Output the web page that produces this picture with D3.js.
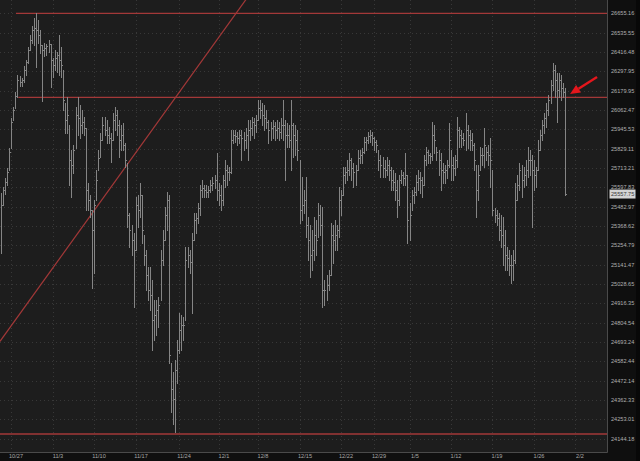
<!DOCTYPE html>
<meta charset="utf-8">
<body style="margin:0;background:#0e0e0e">
<script src="https://d3js.org/d3.v7.min.js"></script>
<script>

// hourly-ish bars (high / low / close)
var hi = [
  25564,25600,25653,25713,25833,26014,26080,26172,26275,26269,
  26257,26330,26367,26447,26521,26577,26626,26657,26614,26552,
  26459,26472,26465,26490,26465,26380,26429,26416,26521,26447,
  26306,26105,26141,25972,25821,25851,26080,26141,26093,26062,
  26020,25953,25624,25552,25463,25523,25701,25821,25923,26020,
  26020,26002,25959,25923,26044,26080,26062,26002,25972,25984,
  25863,25743,25446,25375,25328,25540,25552,25624,25552,25316,
  25228,25128,25128,25053,24937,24937,24954,25228,25345,25481,
  25570,25552,24575,24524,24592,24706,24862,24850,24838,25245,
  25245,25228,25328,25446,25446,25505,25612,25642,25612,25612,
  25606,25642,25659,25671,25803,25624,25612,25671,25761,25731,
  25719,25941,25941,25941,25929,25941,25941,25929,25953,26002,
  26002,26020,26014,26032,26123,26123,26105,26093,26062,26002,
  25990,26002,25990,26002,25990,26014,26123,26002,25984,25972,
  26123,25984,25972,25941,25761,25659,25582,25659,25422,25375,
  25345,25422,25404,25505,25493,25481,25053,25082,25111,25387,
  25375,25404,25375,25600,25582,25719,25719,25761,25803,25773,
  25743,25731,25821,25821,25833,25899,25899,25929,25941,25929,
  25899,25881,25821,25791,25779,25761,25779,25761,25719,25701,
  25683,25642,25671,25701,25689,25803,25671,25505,25582,25600,
  25671,25701,25689,25659,25791,25839,25821,25803,25990,25972,
  25839,25821,25803,25743,25731,25761,25984,25821,25779,25791,
  26020,25959,25941,25923,26044,25972,25941,25923,25863,25731,
  25731,25839,25833,25953,25839,25851,25893,25701,25475,25463,
  25446,25434,25422,25345,25245,25228,25199,25228,25624,25671,
  25743,25731,25719,25761,25839,25821,25791,25761,25719,25881,
  25941,26002,26044,26105,26153,26245,26349,26337,26288,26288,
  26275,26227,26196
];
var lo = [
  25210,25493,25558,25612,25701,25833,26002,26074,26141,26208,
  26208,26233,26275,26349,26429,26472,26459,26324,26472,26410,
  26117,26392,26398,26416,26202,26263,26306,26294,26275,26263,
  26062,25923,25923,25612,25540,25683,25833,25911,25893,25923,
  25911,25463,25463,25422,25006,25093,25523,25701,25779,25881,
  25911,25863,25863,25749,25881,25941,25911,25779,25821,25821,
  25719,25363,25245,25199,24896,25228,25363,25422,25269,25140,
  24995,24937,24879,24649,24706,24735,24781,24937,25140,25287,
  25345,24575,24292,24225,24180,24461,24632,24649,24706,24821,
  25128,25093,24862,25287,25328,25387,25434,25540,25540,25540,
  25540,25570,25582,25594,25523,25493,25463,25493,25600,25612,
  25642,25683,25863,25869,25851,25863,25761,25821,25833,25761,
  25881,25911,25893,25929,26002,26014,25972,25941,25953,25863,
  25881,25893,25881,25893,25881,25893,25881,25642,25839,25839,
  25701,25779,25791,25761,25387,25404,25446,25304,25169,25070,
  25111,25169,25199,25304,25316,24896,24908,24937,24995,25082,
  25152,25228,25228,25304,25434,25552,25624,25642,25671,25642,
  25600,25612,25701,25743,25743,25803,25821,25863,25869,25851,
  25821,25809,25701,25659,25659,25659,25671,25642,25582,25582,
  25523,25422,25493,25624,25612,25612,25269,25287,25463,25505,
  25552,25582,25564,25540,25612,25731,25743,25743,25761,25803,
  25761,25671,25582,25624,25624,25653,25719,25642,25642,25671,
  25719,25839,25839,25851,25821,25833,25821,25821,25701,25422,
  25523,25701,25731,25719,25761,25731,25600,25434,25393,25375,
  25287,25245,25140,25111,25111,25082,25035,25053,25152,25523,
  25582,25540,25600,25612,25659,25671,25363,25582,25600,25701,
  25821,25881,25923,25959,26032,26105,26184,26141,25990,26141,
  26123,26141,25552
];
var cl = [
  25493,25582,25630,25689,25809,25990,26062,26147,26245,26233,
  26245,26306,26355,26429,26490,26552,26564,26552,26521,26459,
  26429,26441,26453,26465,26367,26337,26380,26398,26367,26337,
  26123,26002,26032,25761,25731,25821,26032,26014,25972,25990,
  25953,25582,25523,25463,25345,25493,25642,25773,25881,25972,
  25941,25911,25893,25881,26002,26032,25972,25881,25911,25851,
  25761,25434,25345,25287,25228,25493,25463,25552,25345,25199,
  25082,24995,24966,24821,24850,24879,24908,25169,25287,25434,
  25523,24621,24422,24365,24535,24649,24764,24792,24792,25169,
  25199,25158,25287,25404,25416,25475,25582,25594,25582,25570,
  25582,25612,25624,25642,25582,25552,25523,25642,25701,25689,
  25689,25881,25911,25905,25893,25911,25893,25881,25911,25941,
  25953,25990,25972,26002,26074,26062,26032,26014,25990,25941,
  25953,25965,25941,25953,25929,25972,25972,25911,25911,25881,
  25972,25911,25881,25821,25463,25493,25523,25375,25287,25199,
  25228,25316,25287,25434,25375,24995,24995,25024,25082,25316,
  25287,25316,25345,25523,25552,25671,25689,25701,25761,25713,
  25689,25701,25773,25791,25809,25869,25881,25905,25911,25893,
  25869,25851,25761,25731,25713,25701,25731,25701,25642,25630,
  25582,25523,25642,25671,25653,25671,25404,25434,25552,25570,
  25630,25653,25642,25612,25761,25809,25791,25785,25911,25881,
  25809,25761,25701,25689,25701,25731,25881,25731,25713,25761,
  25941,25911,25893,25881,25941,25911,25881,25851,25761,25582,
  25671,25791,25791,25851,25809,25791,25761,25463,25434,25416,
  25345,25316,25257,25199,25181,25140,25140,25169,25523,25612,
  25701,25642,25671,25701,25761,25761,25701,25671,25701,25821,
  25911,25972,26014,26062,26123,26214,26306,26245,26184,26245,
  26196,26172,25557.75
];
var lastPrice = 25557.75;

var yTicks = [26655.16, 26535.55, 26416.48, 26297.95, 26179.95, 26062.47,
  25945.53, 25829.11, 25713.21, 25597.83, 25482.97, 25368.62, 25254.79,
  25141.47, 25028.65, 24916.35, 24804.54, 24693.24, 24582.44, 24472.14,
  24362.33, 24253.01, 24144.18];

// bar index where each week starts
var weekIdx = [5, 25, 45, 65, 86, 105, 124, 144, 164, 180, 197, 217, 237, 257, 277];
var weekLabels = ["10/27", "11/3", "11/10", "11/17", "11/24", "12/1", "12/8",
  "12/15", "12/22", "12/29", "1/5", "1/12", "1/19", "1/26", "2/2"];

// drawn levels: price, first bar index
var levelPrice = [26655, 26139, 24170];
var levelStart = [7.3, 8.4, -0.4];

// trend line through two points (bar index, price)
var trendIdx = [0, 115];
var trendPrice = [24703, 26684];

// arrow: tail and tip (bar index, price)
var arrowIdx = [287.4, 274.4];
var arrowPrice = [26263, 26159];

var width = 640,
    height = 461,
    plotW = 607,
    plotH = 452;

var svg = d3.select("body").append("svg")
    .attr("width", width)
    .attr("height", height)
    .style("display", "block");

var x = d3.scaleLinear().domain([-0.4, 292.2]).range([0, plotW]);
var y = d3.scaleLog().domain([24144.18, 26655.16]).range([438.6, 13.3]);

svg.append("rect").attr("width", width).attr("height", height).attr("fill", "#0f0f0f");
svg.append("rect").attr("width", plotW).attr("height", plotH).attr("fill", "#1d1d1d");
svg.append("rect").attr("x", 636).attr("width", 4).attr("height", height).attr("fill", "#080808");

svg.append("clipPath").attr("id", "plot")
  .append("rect").attr("width", plotW).attr("height", plotH);

// grid
svg.append("g").selectAll("line").data(yTicks).enter().append("line")
    .attr("x1", 0).attr("x2", plotW)
    .attr("y1", function(d) { return Math.round(y(d)) + 0.5; })
    .attr("y2", function(d) { return Math.round(y(d)) + 0.5; })
    .attr("stroke", "#383838")
    .attr("stroke-dasharray", "1,3");

svg.append("g").selectAll("line").data(weekIdx).enter().append("line")
    .attr("x1", function(d) { return Math.round(x(d)) + 0.5; })
    .attr("x2", function(d) { return Math.round(x(d)) + 0.5; })
    .attr("y1", 0).attr("y2", plotH)
    .attr("stroke", "#383838")
    .attr("stroke-dasharray", "1,3");

// red levels (under the bars)
var red = svg.append("g").attr("clip-path", "url(#plot)");
red.selectAll("line").data(levelPrice).enter().append("line")
    .attr("x1", function(d, i) { return x(levelStart[i]); })
    .attr("x2", plotW)
    .attr("y1", function(d) { return y(d); })
    .attr("y2", function(d) { return y(d); })
    .attr("stroke", "#a33838")
    .attr("stroke-width", 1.3);

var tx1 = x(trendIdx[0]), ty1 = y(trendPrice[0]),
    tx2 = x(trendIdx[1]), ty2 = y(trendPrice[1]),
    slope = (ty2 - ty1) / (tx2 - tx1);
red.append("line")
    .attr("x1", 0).attr("y1", ty1 - slope * tx1)
    .attr("x2", plotW).attr("y2", ty1 + slope * (plotW - tx1))
    .attr("stroke", "#a33838")
    .attr("stroke-width", 1.2);

// bars
var bars = svg.append("g").attr("stroke", "#858585").attr("shape-rendering", "crispEdges");
bars.selectAll("line.hl").data(hi).enter().append("line")
    .attr("class", "hl")
    .attr("x1", function(d, i) { return Math.round(x(i)) + 0.5; })
    .attr("x2", function(d, i) { return Math.round(x(i)) + 0.5; })
    .attr("y1", function(d) { return y(d); })
    .attr("y2", function(d, i) { return y(lo[i]) + 1; });
bars.selectAll("line.c").data(cl).enter().append("line")
    .attr("class", "c")
    .attr("x1", function(d, i) { return Math.round(x(i)) + 1; })
    .attr("x2", function(d, i) { return Math.round(x(i)) + 2; })
    .attr("y1", function(d) { return Math.round(y(d)) + 0.5; })
    .attr("y2", function(d) { return Math.round(y(d)) + 0.5; });

// arrow
var ax0 = x(arrowIdx[0]), ay0 = y(arrowPrice[0]),
    ax1 = x(arrowIdx[1]), ay1 = y(arrowPrice[1]),
    ang = Math.atan2(ay1 - ay0, ax1 - ax0),
    headLen = 10, headW = 4.5;
var bx = ax1 - headLen * Math.cos(ang), by = ay1 - headLen * Math.sin(ang);
svg.append("line")
    .attr("x1", ax0).attr("y1", ay0).attr("x2", bx).attr("y2", by)
    .attr("stroke", "#e5161c").attr("stroke-width", 2.4);
svg.append("polygon")
    .attr("points", [
      [ax1, ay1],
      [bx + headW * Math.sin(ang), by - headW * Math.cos(ang)],
      [bx - headW * Math.sin(ang), by + headW * Math.cos(ang)]
    ].map(function(p) { return p.join(","); }).join(" "))
    .attr("fill", "#e5161c");

// borders
svg.append("line").attr("x1", plotW + 0.5).attr("x2", plotW + 0.5)
    .attr("y1", 0).attr("y2", plotH + 0.5).attr("stroke", "#4a4a4a");
svg.append("line").attr("x1", 0).attr("x2", plotW + 0.5)
    .attr("y1", plotH + 0.5).attr("y2", plotH + 0.5).attr("stroke", "#4a4a4a");

// y labels
svg.append("g").selectAll("text").data(yTicks).enter().append("text")
    .attr("x", 611)
    .attr("y", function(d) { return y(d); })
    .attr("dy", "0.35em")
    .attr("fill", "#b0b0b0")
    .style("font", "5.6px 'Liberation Sans', Arial, sans-serif")
    .text(function(d) { return d.toFixed(2); });

// last price box
var ly = y(lastPrice);
svg.append("rect")
    .attr("x", 609.5).attr("y", ly - 4.5)
    .attr("width", 26).attr("height", 9)
    .attr("fill", "#d4d4d4");
svg.append("text")
    .attr("x", 611).attr("y", ly).attr("dy", "0.35em")
    .attr("fill", "#3a3a3a")
    .style("font", "5.6px 'Liberation Sans', Arial, sans-serif")
    .text(lastPrice.toFixed(2));

// x labels
svg.append("g").selectAll("text").data(weekIdx).enter().append("text")
    .attr("x", function(d) { return Math.round(x(d)) + 5; })
    .attr("y", 458)
    .attr("text-anchor", "middle")
    .attr("fill", "#a8a8a8")
    .style("font", "5.6px 'Liberation Sans', Arial, sans-serif")
    .text(function(d, i) { return weekLabels[i]; });

</script>
</body>
